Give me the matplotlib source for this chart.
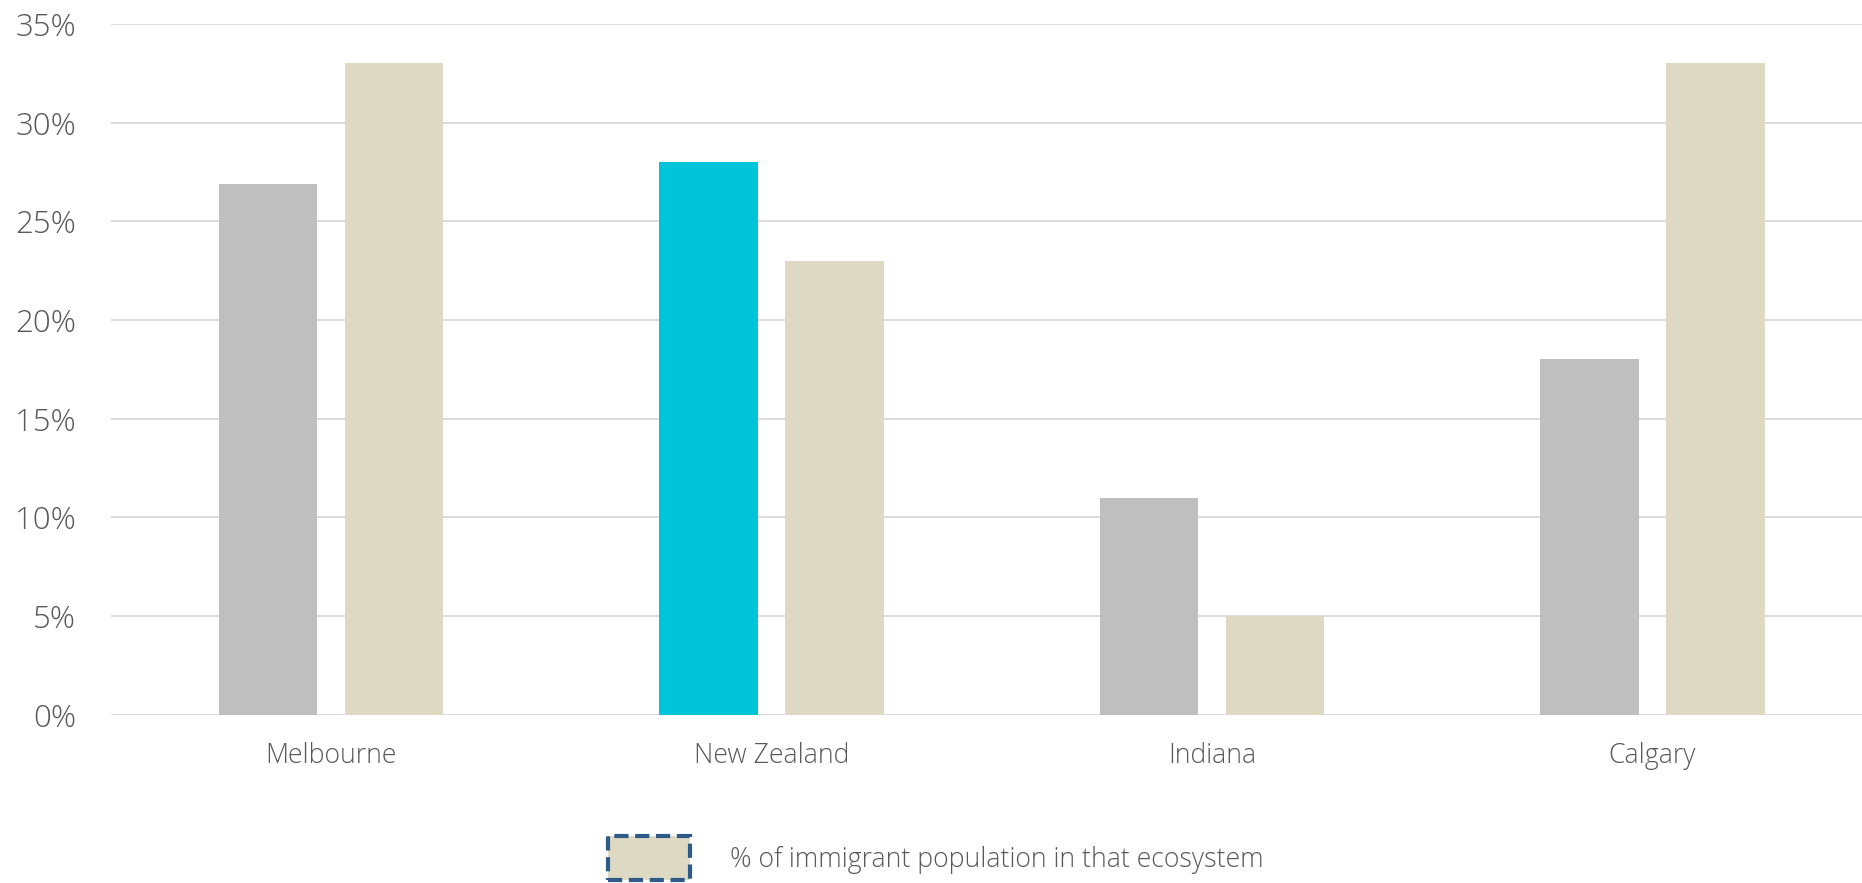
import matplotlib.pyplot as plt
from matplotlib.patches import Patch
from matplotlib.ticker import FuncFormatter
import numpy as np

plt.rcParams['font.family'] = ['Open Sans', 'DejaVu Sans']

ciudades = ['Melbourne', 'New Zealand', 'Indiana', 'Calgary']
serie_base = [26.9, 28, 11, 18]
inmigrantes = [33, 23, 5, 33]
colores_base = ['#bfbfbf', '#00c4d9', '#bfbfbf', '#bfbfbf']
color_inm = '#ddd9c3'
etiqueta_inm = '% of immigrant population in that ecosystem'

gris_texto = '#595959'
ancho = 0.223
desp = 0.143

fig = plt.figure(figsize=(18.62, 8.83), dpi=100)
ax = fig.add_axes([0.0595, 0.1906, 0.9405, 0.7822])

x = np.arange(len(ciudades))
ax.bar(x - desp, serie_base, width=ancho, color=colores_base, zorder=3)
ax.bar(x + desp, inmigrantes, width=ancho, color=color_inm, zorder=3)

ax.set_xlim(-0.5, (1862 - 110.7) / 440.5 - 0.5)
ax.set_ylim(0, 35)
ax.set_yticks(range(0, 36, 5))
ax.yaxis.set_major_formatter(FuncFormatter(lambda v, p: '{:.0f}%'.format(v)))
ax.set_xticks(x)
ax.set_xticklabels(ciudades)

ax.grid(axis='y', color='#d9d9d9', linewidth=1.3, zorder=0)
for s in ax.spines.values():
    s.set_visible(False)
ax.tick_params(axis='both', length=0)
ax.tick_params(axis='y', labelsize=22.5, labelcolor=gris_texto, pad=25)
ax.tick_params(axis='x', labelsize=19.2, labelcolor=gris_texto, pad=20)
for t in ax.get_yticklabels() + ax.get_xticklabels():
    t.set_fontweight('light')

# leyenda solo para la serie de inmigrantes
parche = Patch(facecolor=color_inm, edgecolor='#2e5a88', linestyle=(0, (3.4, 1.6)),
               linewidth=3, label=etiqueta_inm)
ley = fig.legend(handles=[parche], loc='center', bbox_to_anchor=(0.5025, 0.028),
                 frameon=False, fontsize=19.2, handlelength=3.07, handleheight=2.16,
                 handletextpad=1.5, borderpad=0, borderaxespad=0)
for t in ley.get_texts():
    t.set_color(gris_texto)
    t.set_fontweight('light')

fig.savefig('out.png', dpi=100)
